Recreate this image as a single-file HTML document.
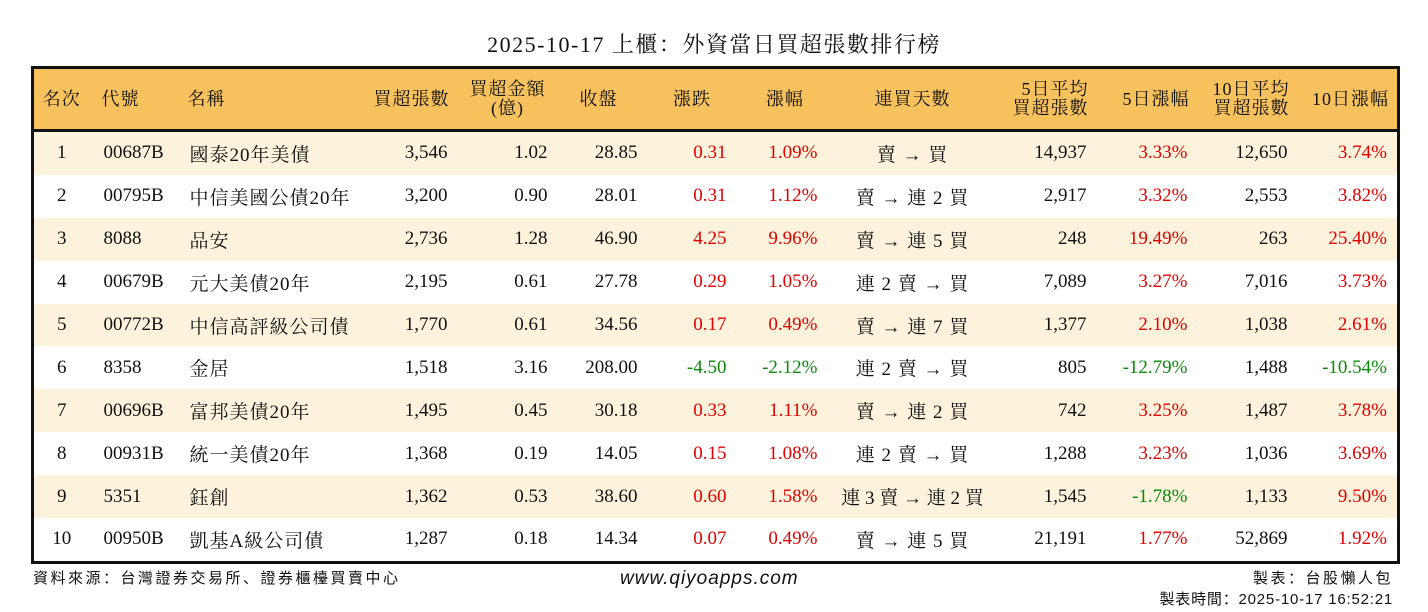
<!DOCTYPE html>
<html><head><meta charset="utf-8"><style>
body{margin:0;width:1428px;height:612px;background:#fff;position:relative;overflow:hidden;font-family:"Liberation Serif","Noto Serif CJK SC",serif;color:#111}
.title{position:absolute;top:28px;left:0;width:1428px;text-align:center;font-size:22px;letter-spacing:1.5px}
table{position:absolute;left:31px;top:66px;width:1366px;border-collapse:collapse;table-layout:fixed;border:3px solid #111;font-size:19px}
th{background:#f7c15d;height:60px;font-weight:normal;font-size:18px;line-height:19px;border-bottom:3px solid #111;padding:0 8px;letter-spacing:1px;white-space:nowrap}
td{height:42.9px;padding:0 10px;white-space:nowrap}
tr.a td{background:#fdf3dc}
.r{text-align:right}.c{text-align:center}.l{text-align:left}
.red{color:#e00000}.grn{color:#0a8a0a}
.n{letter-spacing:1px}
.f{position:absolute;font-family:"Liberation Sans","Noto Sans CJK SC",sans-serif;font-size:15px;letter-spacing:2.5px}
</style></head><body>
<div class="title">2025-10-17 上櫃：外資當日買超張數排行榜</div>
<table>
<colgroup><col style="width:57px"><col style="width:92px"><col style="width:170px"><col style="width:106px"><col style="width:100px"><col style="width:90px"><col style="width:89px"><col style="width:91px"><col style="width:170px"><col style="width:99px"><col style="width:101px"><col style="width:100px"><col style="width:101px"></colgroup>
<tr><th class="c" style="padding:0">名次</th><th class="l" style="padding-left:12px">代號</th><th class="l" style="padding-left:6px">名稱</th><th class="r">買超張數</th><th class="c">買超金額<br>(億)</th><th class="c" style="padding-left:0">收盤</th><th class="c">漲跌</th><th class="c" style="padding-left:14px">漲幅</th><th class="c">連買天數</th><th class="r" style="padding:0 8px 0 0">5日平均<br>買超張數</th><th class="r">5日漲幅</th><th class="r" style="padding:0 8px 0 0">10日平均<br>買超張數</th><th class="r" style="padding:0 8px 0 0">10日漲幅</th></tr>
<tr class="a"><td class="c">1</td><td style="padding-left:14px">00687B</td><td class="n" style="padding-left:8px">國泰20年美債</td><td class="r">3,546</td><td class="r">1.02</td><td class="r">28.85</td><td class="r red">0.31</td><td class="r red">1.09%</td><td class="c n">賣 → 買</td><td class="r">14,937</td><td class="r red">3.33%</td><td class="r">12,650</td><td class="r red">3.74%</td></tr>
<tr><td class="c">2</td><td style="padding-left:14px">00795B</td><td class="n" style="padding-left:8px">中信美國公債20年</td><td class="r">3,200</td><td class="r">0.90</td><td class="r">28.01</td><td class="r red">0.31</td><td class="r red">1.12%</td><td class="c n">賣 → 連 2 買</td><td class="r">2,917</td><td class="r red">3.32%</td><td class="r">2,553</td><td class="r red">3.82%</td></tr>
<tr class="a"><td class="c">3</td><td style="padding-left:14px">8088</td><td class="n" style="padding-left:8px">品安</td><td class="r">2,736</td><td class="r">1.28</td><td class="r">46.90</td><td class="r red">4.25</td><td class="r red">9.96%</td><td class="c n">賣 → 連 5 買</td><td class="r">248</td><td class="r red">19.49%</td><td class="r">263</td><td class="r red">25.40%</td></tr>
<tr><td class="c">4</td><td style="padding-left:14px">00679B</td><td class="n" style="padding-left:8px">元大美債20年</td><td class="r">2,195</td><td class="r">0.61</td><td class="r">27.78</td><td class="r red">0.29</td><td class="r red">1.05%</td><td class="c n">連 2 賣 → 買</td><td class="r">7,089</td><td class="r red">3.27%</td><td class="r">7,016</td><td class="r red">3.73%</td></tr>
<tr class="a"><td class="c">5</td><td style="padding-left:14px">00772B</td><td class="n" style="padding-left:8px">中信高評級公司債</td><td class="r">1,770</td><td class="r">0.61</td><td class="r">34.56</td><td class="r red">0.17</td><td class="r red">0.49%</td><td class="c n">賣 → 連 7 買</td><td class="r">1,377</td><td class="r red">2.10%</td><td class="r">1,038</td><td class="r red">2.61%</td></tr>
<tr><td class="c">6</td><td style="padding-left:14px">8358</td><td class="n" style="padding-left:8px">金居</td><td class="r">1,518</td><td class="r">3.16</td><td class="r">208.00</td><td class="r grn">-4.50</td><td class="r grn">-2.12%</td><td class="c n">連 2 賣 → 買</td><td class="r">805</td><td class="r grn">-12.79%</td><td class="r">1,488</td><td class="r grn">-10.54%</td></tr>
<tr class="a"><td class="c">7</td><td style="padding-left:14px">00696B</td><td class="n" style="padding-left:8px">富邦美債20年</td><td class="r">1,495</td><td class="r">0.45</td><td class="r">30.18</td><td class="r red">0.33</td><td class="r red">1.11%</td><td class="c n">賣 → 連 2 買</td><td class="r">742</td><td class="r red">3.25%</td><td class="r">1,487</td><td class="r red">3.78%</td></tr>
<tr><td class="c">8</td><td style="padding-left:14px">00931B</td><td class="n" style="padding-left:8px">統一美債20年</td><td class="r">1,368</td><td class="r">0.19</td><td class="r">14.05</td><td class="r red">0.15</td><td class="r red">1.08%</td><td class="c n">連 2 賣 → 買</td><td class="r">1,288</td><td class="r red">3.23%</td><td class="r">1,036</td><td class="r red">3.69%</td></tr>
<tr class="a"><td class="c">9</td><td style="padding-left:14px">5351</td><td class="n" style="padding-left:8px">鈺創</td><td class="r">1,362</td><td class="r">0.53</td><td class="r">38.60</td><td class="r red">0.60</td><td class="r red">1.58%</td><td class="c" style="padding:0">連 3 賣 → 連 2 買</td><td class="r">1,545</td><td class="r grn">-1.78%</td><td class="r">1,133</td><td class="r red">9.50%</td></tr>
<tr><td class="c">10</td><td style="padding-left:14px">00950B</td><td class="n" style="padding-left:8px">凱基A級公司債</td><td class="r">1,287</td><td class="r">0.18</td><td class="r">14.34</td><td class="r red">0.07</td><td class="r red">0.49%</td><td class="c n">賣 → 連 5 買</td><td class="r">21,191</td><td class="r red">1.77%</td><td class="r">52,869</td><td class="r red">1.92%</td></tr>
</table>
<div class="f" style="left:33px;top:567px">資料來源：台灣證券交易所、證券櫃檯買賣中心</div>
<div class="f" style="left:620px;top:568px;font-size:19px;font-style:italic;letter-spacing:1px">www.qiyoapps.com</div>
<div class="f" style="right:35px;top:567px;text-align:right">製表：台股懶人包</div>
<div class="f" style="right:35px;top:588px;text-align:right;letter-spacing:0.8px">製表時間：2025-10-17 16:52:21</div>
</body></html>
